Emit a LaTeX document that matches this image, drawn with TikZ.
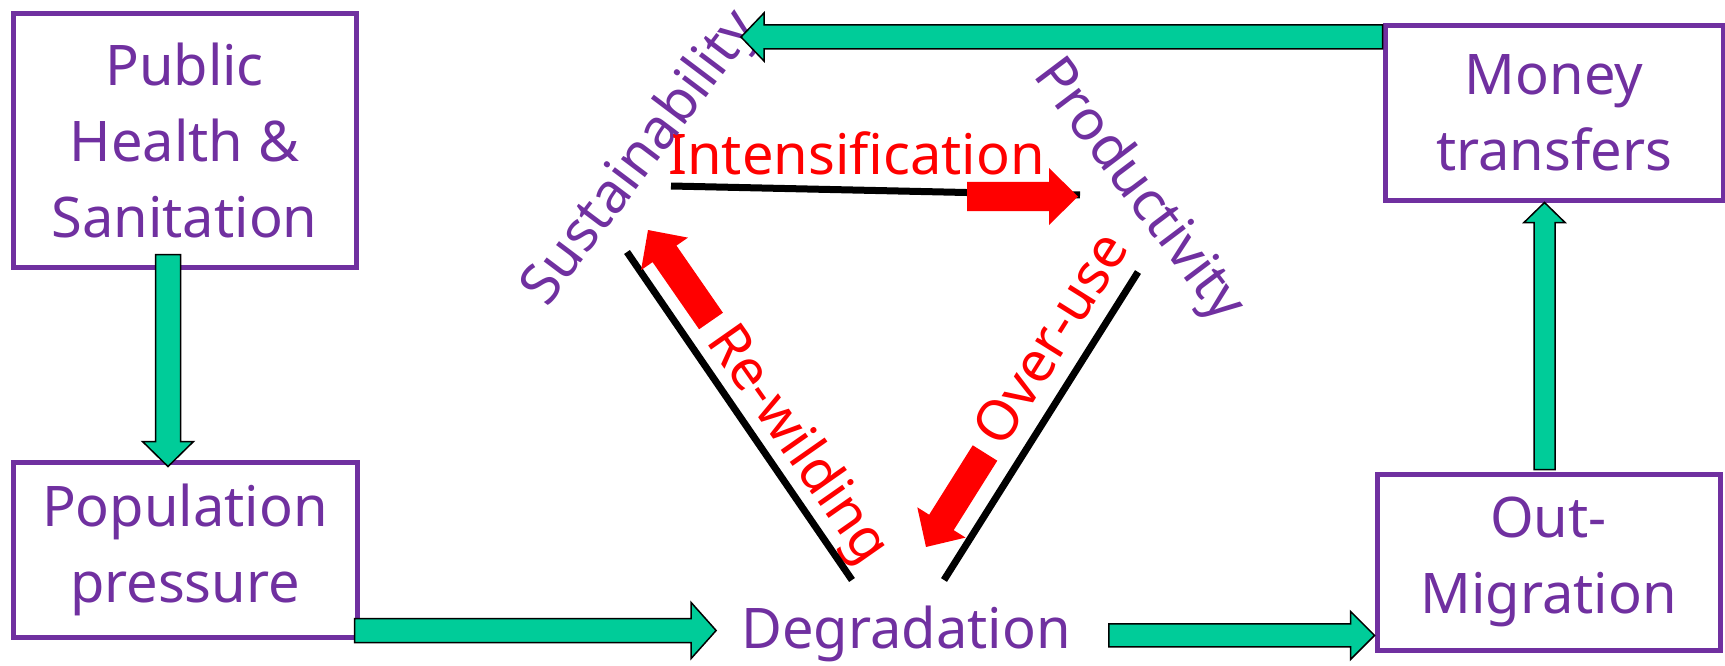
\documentclass[tikz,border=0pt]{standalone}
\usepackage{fontspec}
\setmainfont{Noto Sans}
\usetikzlibrary{calc}
\definecolor{purp}{RGB}{112,48,160}
\definecolor{gfill}{RGB}{0,204,153}
\definecolor{rfill}{RGB}{255,0,0}
\newcommand\diagfont{\fontsize{56}{76}\selectfont}
\tikzset{
  box/.style={draw=purp, line width=5pt, inner sep=0pt, align=center, font=\diagfont, text=purp},
  lab/.style={inner sep=0pt, font=\diagfont, text=purp},
  rlab/.style={inner sep=0pt, font=\diagfont, text=rfill},
  edge/.style={line width=7pt, draw=black},
  gar/.style={draw=black, fill=gfill, line width=1.5pt, line join=miter},
  rar/.style={fill=rfill, draw=none},
  blockarrow/.style n args={3}{
    to path={
      let \p1=(\tikztostart), \p2=(\tikztotarget),
          \n1={atan2(\y2-\y1,\x2-\x1)}, \n2={veclen(\x2-\x1,\y2-\y1)}
      in {[shift={(\p1)}, rotate=\n1]
          (0,#1) -- (\n2-#3,#1) -- (\n2-#3,#2) -- (\n2,0) -- (\n2-#3,-#2) -- (\n2-#3,-#1) -- (0,-#1) -- cycle}
    }
  },
}
\begin{document}
\begin{tikzpicture}[x=1pt,y=-1pt]
\useasboundingbox (0,0) rectangle (1725,666);

% boxes
\node[box, minimum width=343pt, minimum height=253pt] (pub) at (184.5,140.5) {Public\\Health \&\\Sanitation};
\node[box, minimum width=344pt, minimum height=175pt] (pop) at (185,549.5) {Population\\pressure};
\node[box, minimum width=343pt, minimum height=176pt] (mig) at (1548.5,562) {Out-\\Migration};
\node[box, minimum width=338pt, minimum height=174pt] (mon) at (1554,113) {Money\\transfers};

% free labels
\node[lab, anchor=base] (deg) at (906,648) {Degradation};
\node[rlab, anchor=base] (int) at (856.5,175) {Intensification};
\node[rlab, anchor=base, rotate=-55] (rew) at (784,454) {Re-wilding};
\node[rlab, anchor=base, rotate=58] (ovr) at (1067,349) {Over-use};
\node[lab, anchor=base, rotate=53] (sus) at (653,168) {Sustainability};
\node[lab, anchor=base, rotate=-53] (pro) at (1126,200) {Productivity};

% triangle sides
\coordinate (ta) at (671,186); \coordinate (tb) at (1080,195);
\coordinate (la) at (627,252); \coordinate (lb) at (852,580);
\coordinate (ra) at (1138,272); \coordinate (rb) at (944,580);
\draw[edge] (ta) -- (tb);
\draw[edge] (la) -- (lb);
\draw[edge] (ra) -- (rb);

% red arrows
\coordinate (i1) at (967,196.5); \coordinate (i2) at (1078,196.5);
\coordinate (w1) at (711,321);   \coordinate (w2) at (648,230);
\coordinate (o1) at (985,453);   \coordinate (o2) at (926,547);
\path[rar, blockarrow={14.5}{28.5}{29}] (i1) to (i2);
\path[rar, blockarrow={14.5}{28.5}{29}] (w1) to (w2);
\path[rar, blockarrow={14.5}{28.5}{29}] (o1) to (o2);

% green arrows
\coordinate (s1) at ([shift={(-16.5,-15)}]pub.south);
\coordinate (e1) at ([shift={(-17,7)}]pop.north);
\draw[gar, blockarrow={12.5}{25.5}{25}] (s1) to (e1 -| s1);

\coordinate (s2) at ([shift={(-5,-9)}]pop.south east);
\coordinate (e2) at ($(deg.west |- s2)+(-25,0)$);
\draw[gar, blockarrow={12}{28}{25}] (s2) to (e2);

\coordinate (s3) at ($(deg.east)+(38,2)$);
\coordinate (e3) at (mig.west |- s3);
\draw[gar, blockarrow={11.5}{24}{24}] (s3) to (e3);

\coordinate (s4) at ([shift={(-4,-2)}]mig.north);
\coordinate (e4) at (mon.south -| s4);
\draw[gar, blockarrow={10.5}{20.5}{20}] (s4) to (e4);

\coordinate (e5) at (741,37);
\coordinate (s5) at (mon.west |- e5);
\draw[gar, blockarrow={12}{24}{23}] (s5) to (e5);
\end{tikzpicture}
\end{document}
